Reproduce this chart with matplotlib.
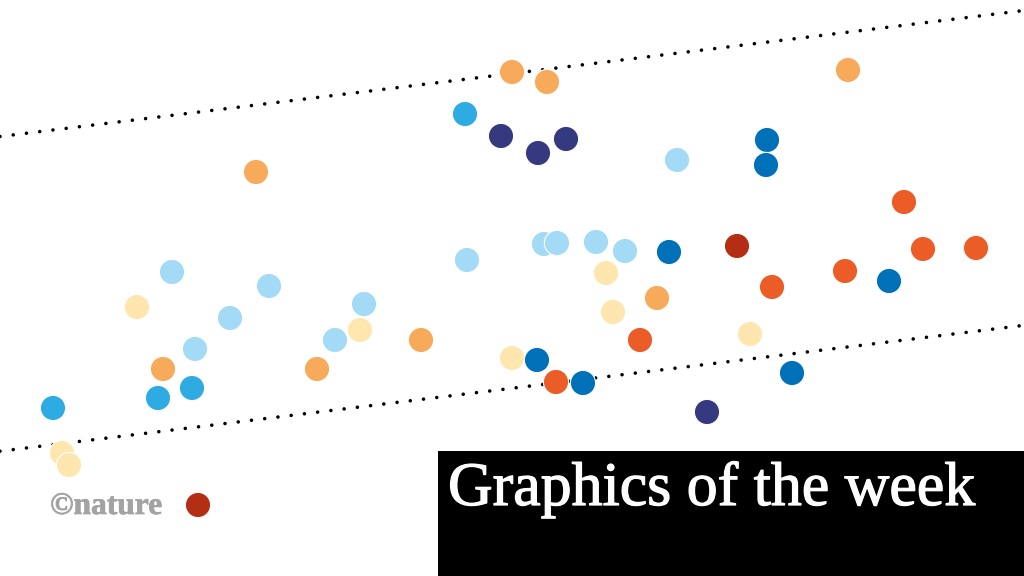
import matplotlib
matplotlib.use("Agg")
import matplotlib.pyplot as plt
from matplotlib.patches import Rectangle
import matplotlib.patheffects as pe

# ---- data (positions in chart units: x 0..1024 left→right, y 0..576 top→bottom) ----
x_vals = [256, 465, 501, 512, 547, 538, 566, 677, 767, 766, 848,
          172, 137, 269, 230, 195, 163, 158, 192, 53, 62, 69,
          467, 364, 360, 335, 421, 317, 512, 537, 556, 583,
          544, 557, 596, 625, 606, 613, 657, 640, 669,
          737, 904, 923, 976, 845, 889, 772, 750, 792, 707, 198]
y_vals = [172, 114, 136, 72, 82, 153, 139, 160, 140, 165, 70,
          272, 307, 286, 318, 349, 369, 398, 388, 408, 453, 465,
          260, 304, 330, 340, 340, 369, 358, 360, 382, 383,
          244, 243, 242, 251, 273, 312, 298, 340, 252,
          246, 202, 249, 248, 271, 281, 287, 334, 373, 412, 505]
groups = ["orange", "cyan", "navy", "orange", "orange", "navy", "navy", "lightblue", "blue", "blue", "orange",
          "lightblue", "paleyellow", "lightblue", "lightblue", "lightblue", "orange", "cyan", "cyan", "cyan", "paleyellow", "paleyellow",
          "lightblue", "lightblue", "paleyellow", "lightblue", "orange", "orange", "paleyellow", "blue", "redorange", "blue",
          "lightblue", "lightblue", "lightblue", "lightblue", "paleyellow", "paleyellow", "orange", "redorange", "blue",
          "darkred", "redorange", "redorange", "redorange", "redorange", "blue", "redorange", "paleyellow", "blue", "navy", "darkred"]

# dotted guide lines (end points)
line_x = [0, 1024]
upper_y = [136.5, 10.5]
lower_y = [451.2, 325.3]

title_text = "Graphics of the week"
logo_text = "©nature"

# ---- style ----
palette = {
    "orange": "#f6aa5a",
    "cyan": "#2eabe2",
    "navy": "#353a80",
    "lightblue": "#a3daf5",
    "blue": "#0070b8",
    "paleyellow": "#fee6ae",
    "redorange": "#eb5c27",
    "darkred": "#b32e12",
}

plt.rcParams["lines.scale_dashes"] = False

fig = plt.figure(figsize=(10.24, 5.76), dpi=100)
ax = fig.add_axes([0, 0, 1, 1])
ax.set_xlim(0, 1024)
ax.set_ylim(576, 0)
ax.axis("off")

for ly in (upper_y, lower_y):
    ax.plot(line_x, ly, color="black", lw=2.6, linestyle=(0, (0.001, 9.6)),
            dash_capstyle="round", zorder=1)

ax.scatter(x_vals, y_vals, s=330, c=[palette[g] for g in groups],
           edgecolors="white", linewidths=0.8, zorder=2)

ax.add_patch(Rectangle((438, 451), 586, 125, facecolor="black",
                       edgecolor="none", zorder=3))

fig.canvas.draw()
renderer = fig.canvas.get_renderer()

def fit_text(x, y, s, target_w, **kw):
    t = ax.text(x, y, s, fontsize=40, **kw)
    w = t.get_window_extent(renderer).width
    t.set_fontsize(40 * target_w / w)
    return t

fit_text(448, 505, title_text, 526, color="white", family="Liberation Serif",
         ha="left", va="baseline", zorder=4,
         path_effects=[pe.withStroke(linewidth=0.9, foreground="white")])
fit_text(50, 514, logo_text, 112, color="#a3a3a3", family="Liberation Serif",
         fontweight="bold", ha="left", va="baseline", zorder=4,
         path_effects=[pe.withStroke(linewidth=0.5, foreground="#a3a3a3")])

fig.savefig("out.png", dpi=100)
